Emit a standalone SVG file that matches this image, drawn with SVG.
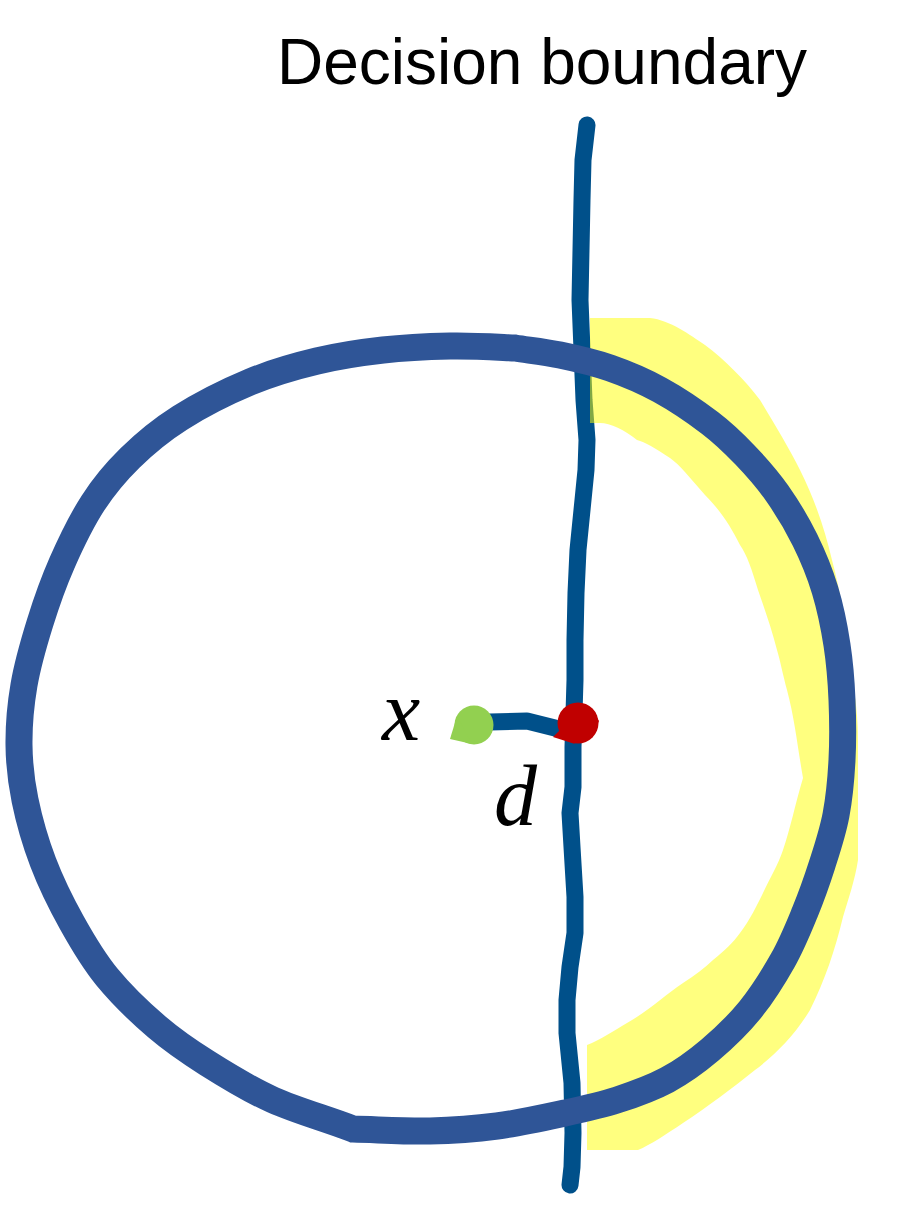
<svg xmlns="http://www.w3.org/2000/svg" width="898" height="1214" viewBox="0 0 898 1214">
<style>
.title{font-family:"Liberation Sans",Arial,sans-serif;font-size:64px;fill:#000}
.math{font-family:"Liberation Serif","Times New Roman",serif;font-style:italic;font-size:86px;fill:#000}
.bline{fill:none;stroke:#00508A;stroke-width:17;stroke-linecap:round;stroke-linejoin:round}
.ring{fill:none;stroke:#2F5597;stroke-width:27;stroke-linejoin:miter}
.region{fill:#FFFF00;fill-opacity:0.5;stroke:none}
</style>
<rect width="898" height="1214" fill="#fff"/>
<g id="title"><text class="title" x="542" y="84" text-anchor="middle">Decision boundary</text></g>
<g id="decision-boundary">
<polyline class="bline" points="587,125 583,160 582,200 581,250 580,300 582,350 584,400 587,440 586,470 583,500 578,550 576,593 575,640 575,680 573,747 573,787 570,813 572,847 575,897 575,933 570,967 567,1000 567,1033 572,1083 573,1133 572,1167 570,1185"/>
</g>
<g id="yellow-region">
<path class="region" d="M 590,318 L 650,318 C 670,320 690,335 705,345 C 725,360 745,380 760,400 C 775,425 790,450 800,470 C 815,500 825,530 832,560 C 840,590 845,620 848,650 C 852,680 858,705 858,740 L 858,860 C 855,880 848,900 843,917 C 835,950 825,980 810,1010 C 795,1035 775,1055 755,1070 C 730,1090 710,1105 683,1123 C 665,1135 650,1145 638,1150 L 587,1150 L 587,1045 C 600,1040 615,1030 627,1023 C 650,1010 665,995 683,983 C 695,975 705,968 713,960 C 725,950 733,943 740,933 C 750,920 757,905 763,893 C 770,878 778,865 783,850 C 790,830 795,805 803,778 C 798,750 795,720 787,690 C 783,675 780,660 777,650 C 772,630 765,610 758,590 C 752,570 747,555 740,545 C 730,525 720,510 705,495 C 690,478 680,465 670,458 C 655,448 645,442 637,440 C 625,430 610,423 600,423 L 590,423 Z"/>
</g>
<g id="ball">
<path class="ring" d="M 515,348 C 530,350.3 544.2,351.7 560,355 C 575.8,358.3 593.3,362.2 610,368 C 626.7,373.8 643.3,380.8 660,390 C 676.7,399.2 695.8,412.2 710,423 C 724.2,433.8 733.8,443.3 745,455 C 756.2,466.7 767,478.8 777,493 C 787,507.2 797,523.8 805,540 C 813,556.2 819.7,572.5 825,590 C 830.3,607.5 834.2,626.7 837,645 C 839.8,663.3 841.2,680.8 842,700 C 842.8,719.2 843,740.8 842,760 C 841,779.2 839.3,797.5 836,815 C 832.7,832.5 827.2,848.8 822,865 C 816.8,881.2 811.5,896.2 805,912 C 798.5,927.8 792.2,943.7 783,960 C 773.8,976.3 762.2,995 750,1010 C 737.8,1025 723.8,1038.3 710,1050 C 696.2,1061.7 682.5,1071.7 667,1080 C 651.5,1088.3 634,1094.5 617,1100 C 600,1105.5 585,1108.7 565,1113 C 545,1117.3 519.5,1123 497,1126 C 474.5,1129 454,1130.5 430,1131 C 406,1131.5 378.7,1129.7 353,1129 C 326.3,1118.7 297.3,1110.8 273,1100 C 248.7,1089.2 226.3,1075.2 207,1063 C 187.7,1050.8 173.7,1041.3 157,1027 C 140.3,1012.7 121.2,994.3 107,977 C 92.8,959.7 82.7,942.2 72,923 C 61.3,903.8 50.8,882.5 43,862 C 35.2,841.5 29,819.5 25,800 C 21,780.5 19.2,764.2 19,745 C 18.8,725.8 20.5,705.3 24,685 C 27.5,664.7 33.7,643.3 40,623 C 46.3,602.7 53.2,583 62,563 C 70.8,543 81.7,520.5 93,503 C 104.3,485.5 115.5,472.2 130,458 C 144.5,443.8 160,430.7 180,418 C 200,405.3 227.2,391.5 250,382 C 272.8,372.5 294.8,366.3 317,361 C 339.2,355.7 360.8,352.5 383,350 C 405.2,347.5 428.3,346.5 450,346 C 471.7,345.5 494,347 515,348 Z"/>
</g>
<g id="connectors">
<polyline class="bline" points="490,722 527,721 555,728"/>
</g>
<g id="point-x">
<circle cx="474" cy="725" r="19.5" fill="#92D050"/>
<polygon points="457,716 450,739 472,744" fill="#92D050"/>
<text class="math" x="382" y="740">x</text>
</g>
<g id="point-projection">
<circle cx="578" cy="723" r="20.5" fill="#C00000"/>
<polygon points="560,730 553,737 575,744" fill="#C00000"/>
<polygon points="590,708 599,721 592,736" fill="#C00000"/>
</g>
<g id="label-d"><text class="math" x="494" y="825">d</text></g>
</svg>
